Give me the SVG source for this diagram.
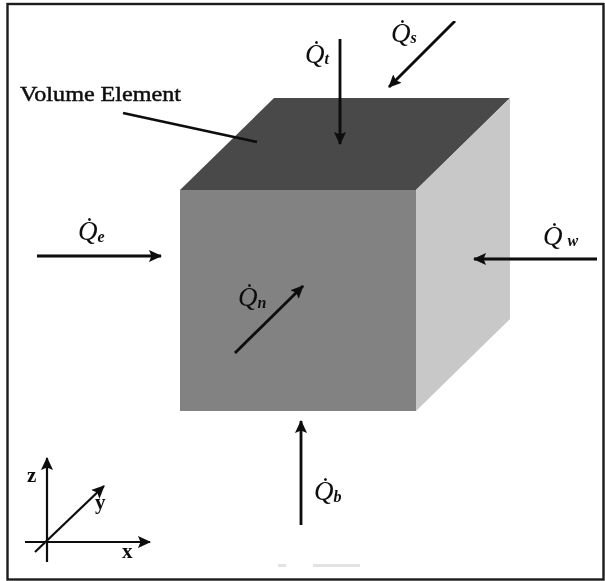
<svg xmlns="http://www.w3.org/2000/svg" width="605" height="581" viewBox="0 0 605 581">
<style>
text{font-family:"Liberation Serif","Times New Roman",serif;fill:#111}
.q{font-size:27px;font-style:italic}
.s{font-size:16px;font-style:italic;font-weight:bold}
.ax{font-size:21px;font-weight:bold}
.l{fill:none;stroke:#0c0c0c;stroke-width:2.8}
.t{fill:none;stroke:#111;stroke-width:2.2}
</style>
<defs>
<marker id="a" markerUnits="userSpaceOnUse" markerWidth="14" markerHeight="14" refX="12" refY="6" orient="auto" viewBox="0 0 14 12"><path d="M0 0L13 6L0 12L2.5 6Z" fill="#0c0c0c"/></marker>
<filter id="scan" x="0" y="0" width="100%" height="100%"><feGaussianBlur stdDeviation="0.5"/></filter>
</defs>
<rect width="605" height="581" fill="#fff"/>
<rect x="7.5" y="4" width="596" height="575.5" fill="none" stroke="#1c1c1c" stroke-width="2.4"/>
<g id="volume-element" filter="url(#scan)">
<path d="M180 190L274 98H510L416 190Z" fill="#4a4a4a"/>
<path d="M416 190L510 98V319L416 411Z" fill="#c8c8c8"/>
<rect x="180" y="190" width="236" height="221" fill="#828282"/>
</g>
<g id="labels" filter="url(#scan)">
<text x="20" y="101" font-size="22" stroke="#111" stroke-width="0.5" textLength="161" lengthAdjust="spacingAndGlyphs">Volume Element</text>
<text class="q" x="305" y="63">Q̇<tspan class="s" dy="1">t</tspan></text>
<text class="q" x="391" y="42">Q̇<tspan class="s" dy="1">s</tspan></text>
<text class="q" x="78" y="240">Q̇<tspan class="s" dy="2">e</tspan></text>
<text class="q" x="238" y="306">Q̇<tspan class="s" dy="2">n</tspan></text>
<text class="q" x="543" y="245">Q̇<tspan class="s" dx="5" dy="1">w</tspan></text>
<text class="q" x="314" y="500">Q̇<tspan class="s" dy="2">b</tspan></text>
<text class="ax" x="27" y="482">z</text>
<text class="ax" x="95" y="509">y</text>
<text class="ax" x="122" y="558">x</text>
</g>
<g id="connectors" filter="url(#scan)">
<path class="l" d="M123 113L257 142"/>
<path class="l" marker-end="url(#a)" d="M340 39V144"/>
<path class="l" marker-end="url(#a)" d="M455 21L389 87"/>
<path class="l" marker-end="url(#a)" d="M37 256H161"/>
<path class="l" marker-end="url(#a)" d="M235 353L303 286"/>
<path class="l" marker-end="url(#a)" d="M597 259H474"/>
<path class="l" marker-end="url(#a)" d="M301 525V421"/>
<path class="t" marker-end="url(#a)" d="M47 562V458"/>
<path class="t" marker-end="url(#a)" d="M25 542H150"/>
<path class="t" marker-end="url(#a)" d="M35 552L104 486"/>
</g>
<rect x="278" y="564" width="8" height="3" fill="#e2e2e2"/>
<rect x="313" y="564" width="47" height="3" fill="#e2e2e2"/>
</svg>
